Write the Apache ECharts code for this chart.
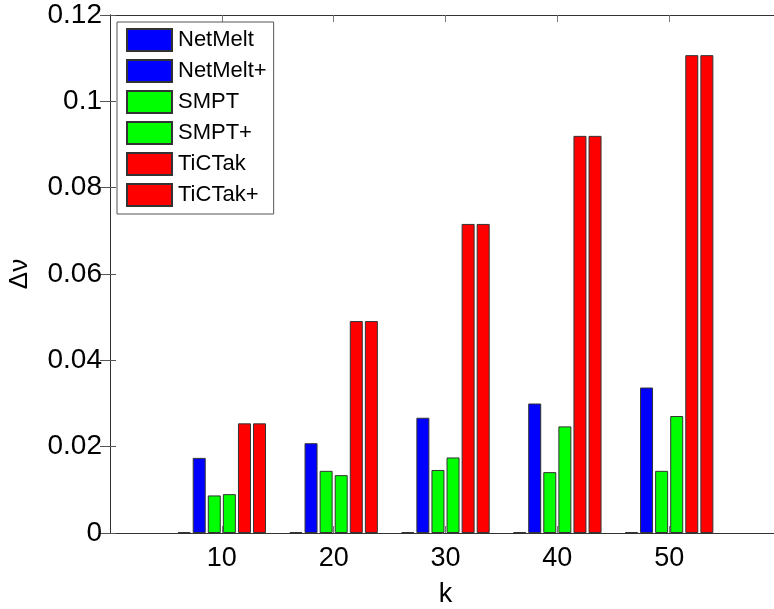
<!DOCTYPE html>
<html>
<head>
<meta charset="utf-8">
<script src="https://cdn.jsdelivr.net/npm/echarts@6/dist/echarts.min.js"></script>
<style>
html,body{margin:0;padding:0;background:#fff;}
#chart{width:774px;height:609px;}
</style>
</head>
<body>
<div id="chart"></div>
<script>
const categories = [10, 20, 30, 40, 50];
const seriesNames = ['NetMelt', 'NetMelt+', 'SMPT', 'SMPT+', 'TiCTak', 'TiCTak+'];
const netMelt     = [0.0002, 0.0002, 0.0002, 0.0002, 0.0002];
const netMeltPlus = [0.0174, 0.0208, 0.0267, 0.0300, 0.0337];
const smpt        = [0.0087, 0.0144, 0.0146, 0.0141, 0.0144];
const smptPlus    = [0.0090, 0.0134, 0.0175, 0.0247, 0.0271];
const ticTak      = [0.0254, 0.0491, 0.0716, 0.0920, 0.1107];
const ticTakPlus  = [0.0254, 0.0491, 0.0716, 0.0920, 0.1107];
const yTicks = [0, 0.02, 0.04, 0.06, 0.08, 0.1, 0.12];

const values = [netMelt, netMeltPlus, smpt, smptPlus, ticTak, ticTakPlus];
const colors = ['#0000ff', '#0000ff', '#00ff00', '#00ff00', '#ff0000', '#ff0000'];
const FONT = '"Liberation Sans", Arial, Helvetica, sans-serif';

const chart = echarts.init(document.getElementById('chart'), null, {renderer: 'canvas'});

const xCommon = {
  type: 'value', min: 0, max: 60, interval: 10,
  axisLine: {show: true, onZero: false, lineStyle: {color: '#333', width: 1}},
  axisTick: {show: true, inside: true, length: 7, lineStyle: {color: '#777'},
    customValues: categories},
  splitLine: {show: false}
};
const yCommon = {
  type: 'value', min: 0, max: 0.12, interval: 0.02,
  axisLine: {show: true, lineStyle: {color: '#333', width: 1}},
  axisTick: {show: true, inside: true, length: 6, lineStyle: {color: '#555'}},
  splitLine: {show: false}
};

chart.setOption({
  animation: false,
  backgroundColor: '#fff',
  textStyle: {fontFamily: FONT},
  grid: {left: 110, top: 15, right: -7, bottom: 76, containLabel: false, outerBoundsMode: 'none'},
  legend: {
    orient: 'vertical', left: 117, top: 22,
    data: seriesNames,
    itemWidth: 45, itemHeight: 22, itemGap: 7,
    padding: [6, 7, 7, 9],
    backgroundColor: '#fff', borderColor: '#555', borderWidth: 1,
    textStyle: {fontSize: 22, color: '#000', fontFamily: FONT, lineHeight: 22, padding: [0, 0, 0, 1]},
    icon: 'rect'
  },
  xAxis: [
    Object.assign({}, xCommon, {
      position: 'bottom',
      name: 'k', nameLocation: 'middle', nameGap: 48,
      nameTextStyle: {fontSize: 27, color: '#000', fontFamily: FONT},
      axisLabel: {show: true, fontSize: 27, color: '#000', fontFamily: FONT, margin: 12,
        customValues: categories,
        formatter: v => String(v)}
    }),
    Object.assign({}, xCommon, {position: 'top', axisLabel: {show: false}})
  ],
  yAxis: [
    Object.assign({}, yCommon, {
      position: 'left',
      name: 'Δν', nameLocation: 'middle', nameGap: 77, nameRotate: 90,
      nameTextStyle: {fontSize: 26, color: '#000', fontFamily: FONT},
      axisLabel: {show: true, fontSize: 28, color: '#000', fontFamily: FONT, margin: 8,
        formatter: v => {
          const t = yTicks.find(y => Math.abs(y - v) < 1e-9);
          return t === undefined ? '' : String(t);
        }}
    }),
    Object.assign({}, yCommon, {position: 'right', axisLabel: {show: false},
      axisTick: {show: true, inside: true, length: 10, lineStyle: {color: '#555'}}})
  ],
  series: seriesNames.map((name, i) => ({
    name: name,
    type: 'bar',
    xAxisIndex: 0, yAxisIndex: 0,
    barWidth: 13,
    barGap: '16%',
    data: categories.map((c, j) => [c, values[i][j]]),
    itemStyle: {color: colors[i], borderColor: '#333', borderWidth: 1}
  }))
});
</script>
</body>
</html>
